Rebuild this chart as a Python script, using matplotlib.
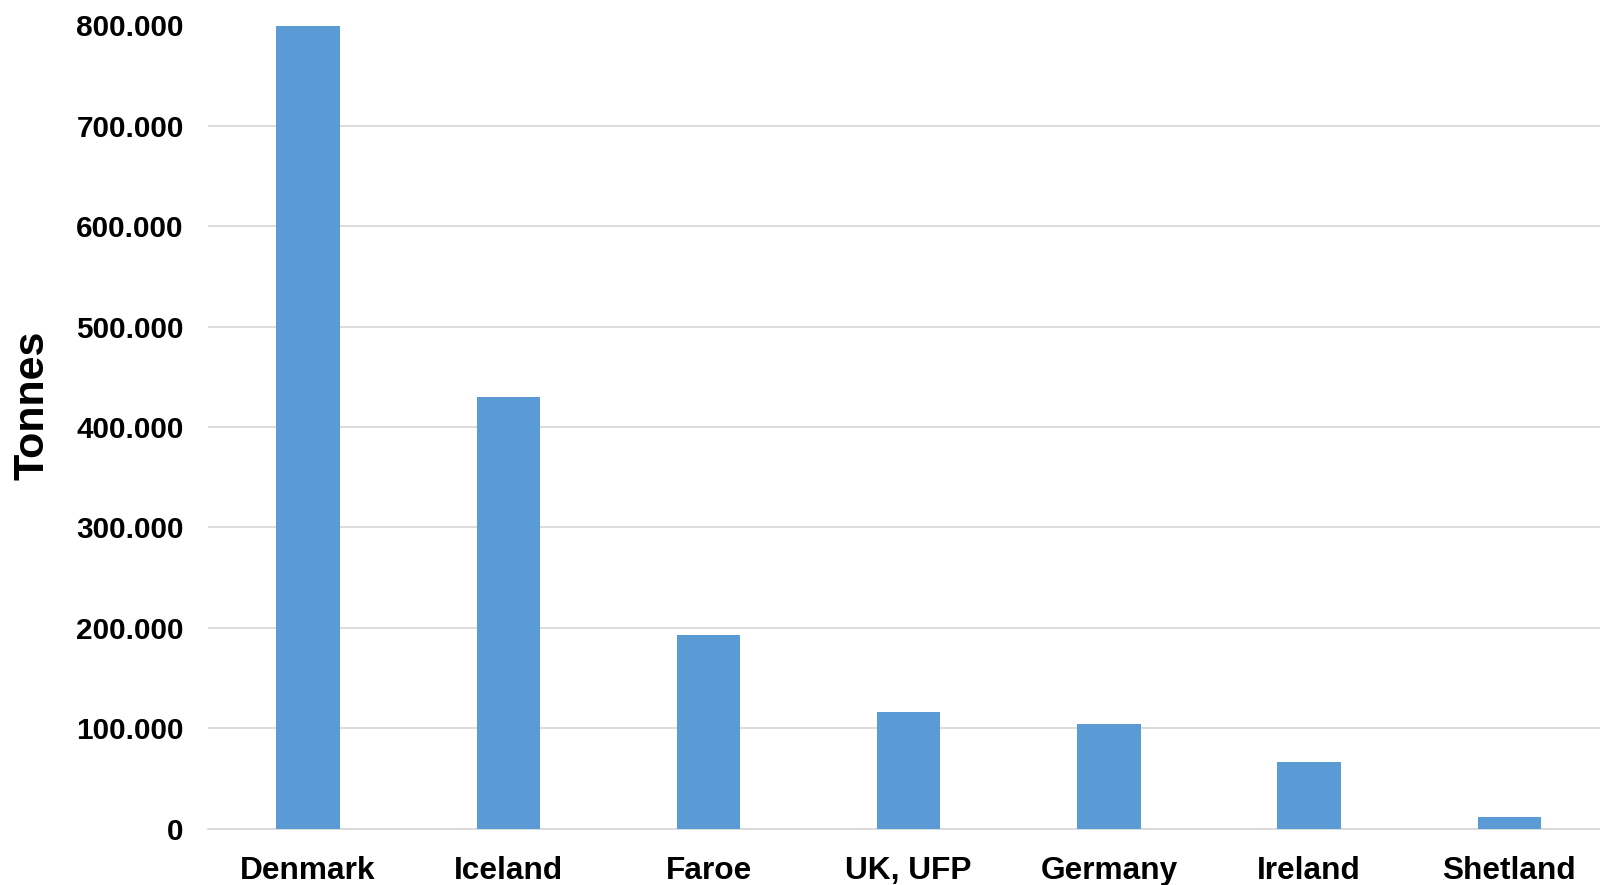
import matplotlib.pyplot as plt
from matplotlib.ticker import FuncFormatter, MultipleLocator

plt.rcParams['font.family'] = ['Liberation Sans', 'DejaVu Sans']
plt.rcParams['font.weight'] = 'bold'

# Catch per country (tonnes)
countries = ["Denmark", "Iceland", "Faroe", "UK, UFP", "Germany", "Ireland", "Shetland"]
tonnes = [800000, 430000, 193000, 116000, 104000, 66000, 11000]

fig = plt.figure(figsize=(16, 8.85), dpi=100)
W, H = 1600, 885
left, bottom, top = 208, 828.5, 25.5
step = 200.2  # pixels per category
ax = fig.add_axes([left / W, (H - bottom) / H, (W - left) / W, (bottom - top) / H])

ax.bar(range(len(countries)), tonnes, width=0.316, color="#5B9BD5", zorder=3)

ax.set_ylim(0, 800000)
ax.set_xlim(-0.5, -0.5 + (W - left) / step)
ax.yaxis.set_major_locator(MultipleLocator(100000))
ax.yaxis.set_major_formatter(FuncFormatter(lambda v, p: f"{int(v):,}".replace(",", ".")))
ax.grid(axis="y", color="#d9d9d9", linewidth=1.3, zorder=0)

ax.set_xticks(range(len(countries)))
ax.set_xticklabels(countries, fontsize=22.8, fontweight="bold")
ax.tick_params(axis="x", length=0, pad=19.5)
ax.tick_params(axis="y", length=0, pad=17.5, labelsize=21.4)
for lab in ax.get_yticklabels():
    lab.set_fontweight("bold")

for s in ["top", "right", "left"]:
    ax.spines[s].set_visible(False)
ax.spines["bottom"].set_color("#d9d9d9")
ax.spines["bottom"].set_linewidth(1.3)

fig.text(33 / W, 1 - 405 / H, "Tonnes", rotation=90, fontsize=31,
         fontweight="bold", ha="center", va="center")

fig.savefig("out.png", dpi=100)
